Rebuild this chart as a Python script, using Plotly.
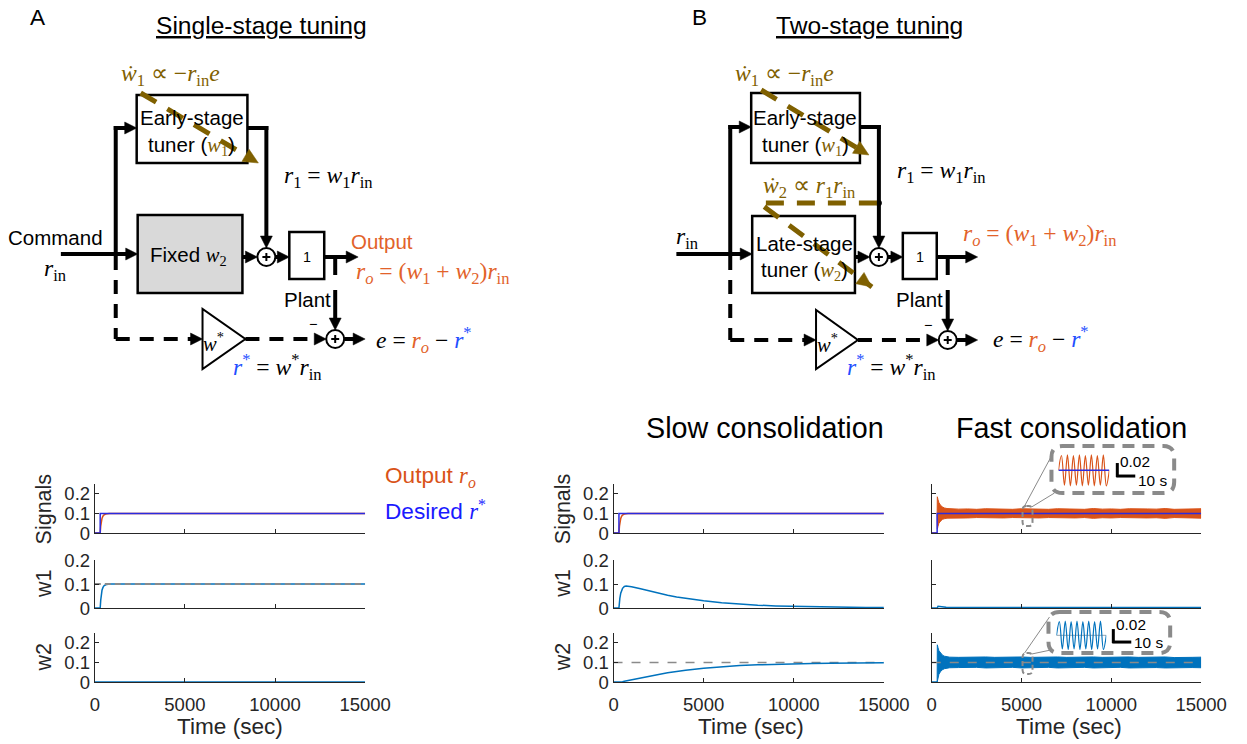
import math
import plotly.graph_objects as go

# ---------------- data ----------------
t_step = [0, 300, 300, 15000]
desired = [0, 0, 0.1, 0.1]

t_rise = [0, 300, 330, 360, 400, 450, 500, 600, 700, 800, 1000, 15000]
out_single = [0, 0, 0.035, 0.058, 0.075, 0.086, 0.092, 0.097, 0.099, 0.1, 0.1, 0.1]
w1_single = [0, 0, 0.033, 0.056, 0.074, 0.085, 0.092, 0.097, 0.099, 0.1, 0.1, 0.1]
out_slow = [0, 0, 0.035, 0.058, 0.075, 0.086, 0.092, 0.097, 0.099, 0.1, 0.1, 0.1]

t_flat = [0, 15000]
w2_single = [0, 0]
target_w = [0.1, 0.1]

t_slow = [0, 300, 350, 400, 500, 600, 700, 800, 1000, 1500, 2000, 2500, 3000, 3500,
          4000, 5000, 6000, 7000, 8000, 9000, 10000, 11000, 12000, 13000, 14000, 15000]
w1_slow = [0, 0, 0.04, 0.062, 0.082, 0.09, 0.092, 0.092, 0.089, 0.08, 0.07, 0.061, 0.053, 0.046,
           0.04, 0.03, 0.022, 0.016, 0.012, 0.009, 0.007, 0.005, 0.004, 0.003, 0.002, 0.002]
w2_slow = [0, 0, 0.0005, 0.001, 0.002, 0.004, 0.006, 0.008, 0.011, 0.02, 0.03, 0.039, 0.047, 0.054,
           0.06, 0.07, 0.078, 0.084, 0.088, 0.091, 0.093, 0.095, 0.096, 0.097, 0.098, 0.098]

t_pre = [0, 300]
zero_pre = [0, 0]
t_fast = [300, 310, 350, 400, 500, 600, 700, 850, 1000, 1500, 2000, 2500, 3000, 3500, 4000,
          4500, 5000, 5500, 6000, 6500, 7000, 7500, 8000, 8500, 9000, 9500, 10000, 10500,
          11000, 11500, 12000, 12500, 13000, 13500, 14000, 14500, 15000]
sig_fast_hi = [0.10, 0.185, 0.17, 0.155, 0.14, 0.133, 0.128, 0.125, 0.124, 0.122, 0.123, 0.121,
               0.124, 0.122, 0.123, 0.121, 0.124, 0.122, 0.123, 0.121, 0.124, 0.122, 0.123,
               0.121, 0.125, 0.122, 0.123, 0.121, 0.124, 0.122, 0.123, 0.122, 0.125, 0.121,
               0.123, 0.122, 0.124]
sig_fast_lo = [0.10, 0.02, 0.035, 0.05, 0.062, 0.07, 0.073, 0.076, 0.077, 0.078, 0.077, 0.079,
               0.076, 0.078, 0.077, 0.079, 0.076, 0.078, 0.077, 0.079, 0.076, 0.078, 0.077,
               0.079, 0.075, 0.078, 0.077, 0.079, 0.076, 0.078, 0.077, 0.078, 0.075, 0.079,
               0.077, 0.078, 0.076]
w2_fast_hi = [0.0, 0.19, 0.175, 0.16, 0.145, 0.137, 0.132, 0.128, 0.127, 0.126, 0.127, 0.125,
              0.128, 0.126, 0.127, 0.125, 0.128, 0.126, 0.127, 0.125, 0.128, 0.126, 0.127,
              0.125, 0.128, 0.126, 0.127, 0.125, 0.128, 0.126, 0.127, 0.126, 0.128, 0.125,
              0.127, 0.126, 0.127]
w2_fast_lo = [0.0, 0.01, 0.025, 0.04, 0.055, 0.063, 0.068, 0.071, 0.073, 0.074, 0.073, 0.075,
              0.072, 0.074, 0.073, 0.075, 0.072, 0.074, 0.073, 0.075, 0.072, 0.074, 0.073,
              0.075, 0.072, 0.074, 0.073, 0.075, 0.072, 0.074, 0.073, 0.074, 0.072, 0.075,
              0.073, 0.074, 0.073]
t_w1_fast = [0, 300, 350, 450, 600, 800, 1200, 2000, 15000]
w1_fast = [0, 0, 0.007, 0.006, 0.004, 0.003, 0.002, 0.002, 0.002]

inset_t = [0, 1, 2, 3, 4, 5, 6, 7, 8, 9, 10, 11, 12, 13, 14, 15, 16, 17]
inset_sig = [0.1, 0.124, 0.076, 0.125, 0.075, 0.124, 0.076, 0.125, 0.075,
             0.124, 0.076, 0.125, 0.075, 0.124, 0.076, 0.125, 0.075, 0.1]
inset_w2 = [0.1, 0.125, 0.075, 0.126, 0.074, 0.125, 0.075, 0.126, 0.074,
            0.125, 0.075, 0.126, 0.074, 0.125, 0.075, 0.126, 0.074, 0.1]
inset_ref = [0.1, 0.1]
inset_ref_t = [0, 17]

x_ticks = [0, 5000, 10000, 15000]
x_ticktext = ["0", "5000", "10000", "15000"]
y_ticks = [0, 0.1, 0.2]
row_names = ["Signals", "w1", "w2"]

# ---------------- styling ----------------
W, H = 1247, 744
# the photographed page lands slightly scaled/offset; positions below are given in
# target-picture pixels and mapped back to page coordinates
OX, SX, OY, SY = 4.0, 0.9775, 11.0, 0.9717
FS = 1.0 / ((SX + SY) / 2)

SANS = "Liberation Sans, Arial, Helvetica, sans-serif"
SERIF = "Liberation Serif, Times New Roman, serif"
BLACK = "#000000"
AX = "#262626"
OLIVE = "#7F6000"
ORANGE = "#D95319"
ORANGE_T = "#E2622A"
BLUE_LINE = "#2B2BE0"
BLUE_T = "#1F4FFF"
MBLUE = "#0072BD"
GRAY = "#8A8A8A"

COLX = [(94, 365), (614, 885), (933, 1203)]
ROWY = [(484, 533, 0.25), (560, 608, 0.2), (633, 682, 0.25)]


def X(p):
    return ((p - OX) / SX) / W


def Y(p):
    return 1 - ((p - OY) / SY) / H


def F(s):
    return round(s * FS, 1)


shapes = []
annots = []


def seg(x0, y0, x1, y1, color=BLACK, width=4, dash=None):
    ln = dict(color=color, width=width)
    if dash:
        ln["dash"] = dash
    shapes.append(dict(type="line", xref="paper", yref="paper", x0=X(x0), y0=Y(y0),
                       x1=X(x1), y1=Y(y1), line=ln, layer="above"))


def poly(pts, color, fill=None, width=0, close=True, layer="above", dash=None):
    path = "M " + " L ".join(f"{X(a):.5f},{Y(b):.5f}" for a, b in pts) + (" Z" if close else "")
    ln = dict(color=color, width=width)
    if dash:
        ln["dash"] = dash
    shapes.append(dict(type="path", xref="paper", yref="paper", path=path,
                       fillcolor=fill if fill else "rgba(0,0,0,0)", line=ln, layer=layer))


def head(xt, yt, xf, yf, color=BLACK, L=12, hw=6):
    dx, dy = xt - xf, yt - yf
    n = math.hypot(dx, dy)
    ux, uy = dx / n, dy / n
    bx, by = xt - ux * L, yt - uy * L
    nx, ny = -uy, ux
    poly([(xt, yt), (bx + nx * hw, by + ny * hw), (bx - nx * hw, by - ny * hw)], color, fill=color, width=0.5)


def arrow(x0, y0, x1, y1, color=BLACK, width=4, dash=None, L=12, hw=6):
    dx, dy = x1 - x0, y1 - y0
    n = math.hypot(dx, dy)
    ux, uy = dx / n, dy / n
    seg(x0, y0, x1 - ux * (L - 2), y1 - uy * (L - 2), color, width, dash)
    head(x1, y1, x0, y0, color, L, hw)


def box(x0, y0, x1, y1, fill="white", width=2.5):
    shapes.append(dict(type="rect", xref="paper", yref="paper", x0=X(x0), y0=Y(y1),
                       x1=X(x1), y1=Y(y0), line=dict(color=BLACK, width=width), fillcolor=fill,
                       layer="above"))


def circ(cx, cy, r=9, fill="white", width=2):
    shapes.append(dict(type="circle", xref="paper", yref="paper", x0=X(cx - r), y0=Y(cy + r),
                       x1=X(cx + r), y1=Y(cy - r), line=dict(color=BLACK, width=width),
                       fillcolor=fill, layer="above"))


def sumj(cx, cy):
    circ(cx, cy)
    seg(cx - 4, cy, cx + 4, cy, width=2)
    seg(cx, cy - 4, cx, cy + 4, width=2)


def rrect(x0, y0, x1, y1, r, color, width, dash, fill=None, layer="above"):
    p = [("M", x0 + r, y0), ("L", x1 - r, y0), ("Q", x1, y0, x1, y0 + r), ("L", x1, y1 - r),
         ("Q", x1, y1, x1 - r, y1), ("L", x0 + r, y1), ("Q", x0, y1, x0, y1 - r),
         ("L", x0, y0 + r), ("Q", x0, y0, x0 + r, y0)]
    s = ""
    for item in p:
        cmd = item[0]
        coords = item[1:]
        pts = []
        for i in range(0, len(coords), 2):
            pts.append(f"{X(coords[i]):.5f},{Y(coords[i + 1]):.5f}")
        s += cmd + " " + " ".join(pts) + " "
    s += "Z"
    shapes.append(dict(type="path", xref="paper", yref="paper", path=s,
                       fillcolor=fill if fill else "rgba(0,0,0,0)",
                       line=dict(color=color, width=width, dash=dash), layer=layer))


def txt(x, y, s, size=20, color=BLACK, family=SANS, xanchor="center", yanchor="middle", angle=0):
    annots.append(dict(x=X(x), y=Y(y), xref="paper", yref="paper", text=s, showarrow=False,
                       xanchor=xanchor, yanchor=yanchor, textangle=angle,
                       font=dict(size=F(size), color=color, family=family)))


def sv(s, color=None):
    c = f"color:{color};" if color else ""
    return f"<span style='font-family:{SERIF};{c}'>{s}</span>"


RIN = "<i>r</i><sub>in</sub>"

# ---------------- diagram A ----------------
txt(37, 17, "A", size=22)
txt(261, 25, "<u>Single-stage tuning</u>", size=24)
box(136, 95, 247, 163)
txt(191, 117, "Early-stage", size=20)
txt(191, 146, "tuner (" + sv("<i>w</i><sub>1</sub>", OLIVE) + ")", size=20)
box(137, 215, 242, 293, fill="#D9D9D9")
txt(188, 256, "Fixed " + sv("<i>w</i><sub>2</sub>"), size=20)
box(289, 232, 324, 279, width=2.5)
txt(307, 257, "1", size=14)
txt(307, 299, "Plant", size=20)
sumj(266, 257)
sumj(335, 339)
poly([(202, 309), (202, 369), (245, 339)], BLACK, fill="white", width=2)
txt(213, 342, sv("<i>w</i><sup>*</sup>"), size=20)

arrow(60, 254, 137, 254)
seg(115, 254, 115, 126)
arrow(113, 128, 136, 128)
seg(115, 256, 115, 339, dash="14px,10px")
arrow(115, 339, 202, 339, dash="14px,10px")
seg(247, 128, 268, 128)
arrow(266, 126, 266, 248)
arrow(242, 257, 257, 257)
arrow(275, 257, 289, 257)
arrow(324, 257, 358, 257)
seg(335, 257, 335, 275)
seg(335, 290, 335, 318)
head(335, 330, 335, 300)
arrow(245, 339, 326, 339, dash="14px,10px")
arrow(344, 339, 365, 339)
txt(313, 324, "−", size=14)

arrow(140, 93, 258, 163, color=OLIVE, width=5, dash="18px,13px", L=15, hw=7)

txt(55, 237, "Command", size=20)
txt(55, 270, sv(RIN), size=23)
txt(118, 75, sv("<i>ẇ</i><sub>1</sub> ∝ −" + RIN + "<i>e</i>"), size=23, color=OLIVE, xanchor="left")
txt(282, 177, sv("<i>r</i><sub>1</sub> = <i>w</i><sub>1</sub>" + RIN), size=23, xanchor="left")
txt(349, 241, "Output", size=20, color=ORANGE_T, xanchor="left")
txt(354, 273, sv("<i>r<sub>o</sub></i> = (<i>w</i><sub>1</sub> + <i>w</i><sub>2</sub>)" + RIN),
    size=23, color=ORANGE_T, xanchor="left")
txt(231, 367, sv("<span style='color:" + BLUE_T + "'><i>r</i><sup>*</sup></span> = <i>w</i><sup>*</sup>" + RIN),
    size=23, xanchor="left")
txt(374, 340, sv("<i>e</i> = <span style='color:" + ORANGE_T + "'><i>r<sub>o</sub></i></span> − "
                 "<span style='color:" + BLUE_T + "'><i>r</i><sup>*</sup></span>"), size=23, xanchor="left")

# ---------------- diagram B ----------------
txt(700, 17, "B", size=22)
txt(871, 25, "<u>Two-stage tuning</u>", size=24)
box(752, 93, 861, 163)
txt(806, 117, "Early-stage", size=20)
txt(806, 146, "tuner (" + sv("<i>w</i><sub>1</sub>", OLIVE) + ")", size=20)
box(753, 216, 856, 293)
txt(805, 243, "Late-stage", size=20)
txt(805, 271, "tuner (" + sv("<i>w</i><sub>2</sub>", OLIVE) + ")", size=20)
box(904, 233, 938, 279)
txt(921, 257, "1", size=14)
txt(921, 299, "Plant", size=20)
sumj(880, 257)
sumj(949, 340)
poly([(817, 310), (817, 369), (859, 340)], BLACK, fill="white", width=2)
txt(828, 343, sv("<i>w</i><sup>*</sup>"), size=20)

arrow(677, 254, 753, 254)
seg(731, 254, 731, 125)
arrow(729, 127, 752, 127)
seg(731, 256, 731, 340, dash="14px,10px")
arrow(731, 340, 817, 340, dash="14px,10px")
seg(861, 127, 882, 127)
arrow(880, 125, 880, 248)
arrow(856, 257, 871, 257)
arrow(889, 257, 904, 257)
arrow(938, 257, 979, 257)
seg(949, 257, 949, 275)
seg(949, 290, 949, 319)
head(949, 331, 949, 300)
arrow(859, 340, 940, 340, dash="14px,10px")
arrow(958, 340, 979, 340)
txt(929, 325, "−", size=14)
circ(880, 203, r=3, fill=BLACK, width=0)

arrow(762, 90, 870, 155, color=OLIVE, width=5, dash="18px,13px", L=15, hw=7)
poly([(878, 203), (760, 203), (873, 287)], OLIVE, width=5, close=False, dash="18px,13px")
head(873, 287, 760, 203, OLIVE, 15, 7)

txt(688, 238, sv(RIN), size=23)
txt(734, 75, sv("<i>ẇ</i><sub>1</sub> ∝ −" + RIN + "<i>e</i>"), size=23, color=OLIVE, xanchor="left")
txt(762, 187, sv("<i>ẇ</i><sub>2</sub> ∝ <i>r</i><sub>1</sub>" + RIN), size=23, color=OLIVE, xanchor="left")
txt(896, 172, sv("<i>r</i><sub>1</sub> = <i>w</i><sub>1</sub>" + RIN), size=23, xanchor="left")
txt(962, 235, sv("<i>r<sub>o</sub></i> = (<i>w</i><sub>1</sub> + <i>w</i><sub>2</sub>)" + RIN),
    size=23, color=ORANGE_T, xanchor="left")
txt(846, 367, sv("<span style='color:" + BLUE_T + "'><i>r</i><sup>*</sup></span> = <i>w</i><sup>*</sup>" + RIN),
    size=23, xanchor="left")
txt(992, 339, sv("<i>e</i> = <span style='color:" + ORANGE_T + "'><i>r<sub>o</sub></i></span> − "
                 "<span style='color:" + BLUE_T + "'><i>r</i><sup>*</sup></span>"), size=23, xanchor="left")

# ---------------- plots ----------------
fig = go.Figure()


def ax_id(n):
    return ("x" if n == 1 else f"x{n}"), ("y" if n == 1 else f"y{n}")


def add(n, x, y, color, width=1.5, dash=None, fill=None, shape="linear"):
    xa, ya = ax_id(n)
    ln = dict(color=color, width=width, shape=shape)
    if dash:
        ln["dash"] = dash
    kw = {}
    if fill:
        kw = dict(fill="toself", fillcolor=fill)
    fig.add_trace(go.Scatter(x=x, y=y, mode="lines", line=ln, xaxis=xa, yaxis=ya,
                             showlegend=False, hoverinfo="skip", **kw))


# column 1 (single-stage)
add(1, t_rise, out_single, ORANGE)
add(1, t_step, desired, BLUE_LINE)
add(4, t_rise, w1_single, MBLUE)
add(4, t_flat, target_w, GRAY, dash="6px,4px", width=2)
add(7, t_flat, w2_single, MBLUE)
# column 2 (slow)
add(2, t_rise, out_slow, ORANGE)
add(2, t_step, desired, BLUE_LINE)
add(5, t_slow, w1_slow, MBLUE)
add(8, t_flat, target_w, GRAY, dash="dash")
add(8, t_slow, w2_slow, MBLUE)
# column 3 (fast)
add(3, t_pre, zero_pre, ORANGE)
add(3, t_fast + t_fast[::-1], sig_fast_hi + sig_fast_lo[::-1], ORANGE, width=1, fill=ORANGE)
add(3, t_step, desired, BLUE_LINE)
add(6, t_w1_fast, w1_fast, MBLUE)
add(9, t_pre, zero_pre, MBLUE)
add(9, t_fast + t_fast[::-1], w2_fast_hi + w2_fast_lo[::-1], MBLUE, width=1, fill=MBLUE)
add(9, t_flat, target_w, GRAY, dash="dash")
# insets
add(10, inset_t, inset_sig, ORANGE, width=1.2, shape="spline")
add(10, inset_ref_t, inset_ref, BLUE_LINE, width=1.5)
add(11, inset_ref_t, inset_ref, "#9AA6B0", width=1)
add(11, inset_t, inset_w2, MBLUE, width=1.2, shape="spline")

layout = {}
for r in range(3):
    for c in range(3):
        n = r * 3 + c + 1
        xk = "xaxis" if n == 1 else f"xaxis{n}"
        yk = "yaxis" if n == 1 else f"yaxis{n}"
        xa, ya = ax_id(n)
        x0, x1 = COLX[c]
        y0, y1, ymax = ROWY[r]
        layout[xk] = dict(domain=[X(x0), X(x1)], range=[0, 15000], anchor=ya, showline=True,
                          linecolor=AX, linewidth=1, ticks="inside", ticklen=4, tickcolor=AX,
                          tickvals=x_ticks, ticktext=x_ticktext, showticklabels=(r == 2),
                          showgrid=False, zeroline=False, ticklabelstandoff=6,
                          ticklabeloverflow="allow",
                          tickfont=dict(size=F(18), color=AX, family=SANS), fixedrange=True)
        layout[yk] = dict(domain=[Y(y1), Y(y0)], range=[0, ymax], anchor=xa, showline=True,
                          linecolor=AX, linewidth=1, ticks="inside", ticklen=4, tickcolor=AX,
                          tickvals=y_ticks, showticklabels=(c < 2), showgrid=False,
                          zeroline=False, tickfont=dict(size=F(18), color=AX, family=SANS),
                          ticklabeloverflow="allow", fixedrange=True)
        if c < 2:
            txt(43 if c == 0 else 563, (y0 + y1) / 2, row_names[r], size=21, color=AX, angle=-90)

# inset axes
for n, (ix0, ix1, iy0, iy1) in [(10, (1060, 1111, 453, 487)), (11, (1058, 1108, 620, 650))]:
    xa, ya = ax_id(n)
    layout[f"xaxis{n}"] = dict(domain=[X(ix0), X(ix1)], range=[0, 17], anchor=ya, visible=False,
                               fixedrange=True)
    layout[f"yaxis{n}"] = dict(domain=[Y(iy1), Y(iy0)], range=[0.073, 0.128], anchor=xa,
                               visible=False, fixedrange=True)

# titles / legend / x titles
txt(766, 428, "Slow consolidation", size=28)
txt(1073, 428, "Fast consolidation", size=28)
txt(383, 477, "Output " + sv("<i>r<sub>o</sub></i>"), size=22, color=ORANGE, xanchor="left")
txt(383, 510, "Desired " + sv("<i>r</i><sup>*</sup>"), size=22, color="#1A1AFF", xanchor="left")
for cx in [230, 752, 1071]:
    txt(cx, 726, "Time (sec)", size=22, color=AX)

# zoom call-outs
rrect(1053, 446, 1176, 493, 11, GRAY, 4, "12px,8px", fill="white", layer="below")
rrect(1050, 612, 1172, 653, 11, GRAY, 4, "12px,8px", fill="white", layer="below")
rrect(1024, 506, 1034, 526, 4, GRAY, 2, "5px,3px")
rrect(1024, 653, 1034, 674, 4, GRAY, 2, "5px,3px")
seg(1026, 506, 1053, 456, color=GRAY, width=1)
seg(1033, 507, 1056, 493, color=GRAY, width=1)
seg(1026, 653, 1051, 617, color=GRAY, width=1)
seg(1033, 654, 1052, 650, color=GRAY, width=1)
# scale bars
seg(1119, 463, 1119, 477, width=3)
seg(1118, 476, 1137, 476, width=3)
txt(1120, 461, "0.02", size=15, xanchor="left")
txt(1138, 480, "10 s", size=15, xanchor="left")
seg(1115, 629, 1115, 643, width=3)
seg(1114, 642, 1133, 642, width=3)
txt(1116, 624, "0.02", size=15, xanchor="left")
txt(1134, 642, "10 s", size=15, xanchor="left")

fig.update_layout(width=W, height=H, autosize=False, margin=dict(l=0, r=0, t=0, b=0),
                  paper_bgcolor="white", plot_bgcolor="rgba(0,0,0,0)",
                  shapes=shapes, annotations=annots, showlegend=False,
                  font=dict(family=SANS, color=BLACK), **layout)

fig.write_html(
    "out.html",
    config={"displayModeBar": False},
    post_script="document.body.style.margin='0';document.body.style.overflow='hidden';",
)
